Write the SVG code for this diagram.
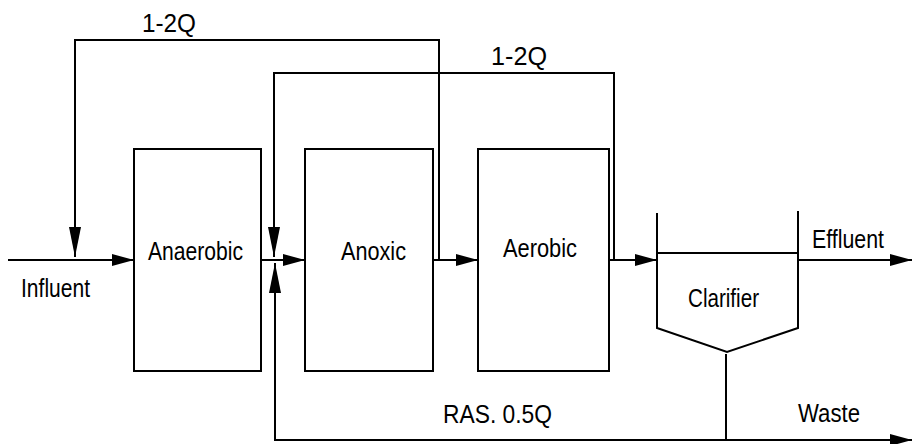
<svg xmlns="http://www.w3.org/2000/svg" width="912" height="444" viewBox="0 0 912 444">
<style>
.box{fill:none;stroke:#000;stroke-width:2}
.ln{fill:none;stroke:#000;stroke-width:2}
.t{font-family:"Liberation Sans",Arial,sans-serif;font-size:26px;fill:#000}
</style>
<defs>
<marker id="ah" viewBox="0 0 22 12" refX="22" refY="6" markerWidth="22" markerHeight="12" markerUnits="userSpaceOnUse" orient="auto"><path d="M0,0 L22,6 L0,12 z" fill="#000"/></marker>
<marker id="av" viewBox="0 0 30 12" refX="30" refY="6" markerWidth="30" markerHeight="12" markerUnits="userSpaceOnUse" orient="auto"><path d="M0,0 L30,6 L0,12 z" fill="#000"/></marker>
</defs>
<rect width="912" height="444" fill="#fff"/>
<g id="connectors">
<path class="ln" d="M8,260 H134" marker-end="url(#ah)"/>
<path class="ln" d="M439,260 V40 H75 V257" marker-end="url(#av)"/>
<path class="ln" d="M614,260 V73 H274 V257" marker-end="url(#av)"/>
<path class="ln" d="M261,260 H305" marker-end="url(#ah)"/>
<path class="ln" d="M433,260 H478" marker-end="url(#ah)"/>
<path class="ln" d="M609,260 H657" marker-end="url(#ah)"/>
<path class="ln" d="M798,260 H912" marker-end="url(#ah)"/>
<path class="ln" d="M726,354 V440 H912" marker-end="url(#ah)"/>
<path class="ln" d="M726,440 H275 V263" marker-end="url(#av)"/>
<text class="t" x="142" y="32" textLength="54" lengthAdjust="spacingAndGlyphs">1-2Q</text>
<text class="t" x="491" y="65" textLength="56" lengthAdjust="spacingAndGlyphs">1-2Q</text>
<text class="t" x="21" y="297" textLength="69" lengthAdjust="spacingAndGlyphs">Influent</text>
<text class="t" x="812" y="248" textLength="72" lengthAdjust="spacingAndGlyphs">Effluent</text>
<text class="t" x="443" y="423" textLength="109" lengthAdjust="spacingAndGlyphs">RAS. 0.5Q</text>
<text class="t" x="798" y="422" textLength="62" lengthAdjust="spacingAndGlyphs">Waste</text>
</g>
<g id="anaerobic">
<rect class="box" x="134" y="149" width="127" height="222"/>
<text class="t" x="148" y="260" textLength="95" lengthAdjust="spacingAndGlyphs">Anaerobic</text>
</g>
<g id="anoxic">
<rect class="box" x="305" y="149" width="128" height="222"/>
<text class="t" x="341" y="260" textLength="65" lengthAdjust="spacingAndGlyphs">Anoxic</text>
</g>
<g id="aerobic">
<rect class="box" x="478" y="149" width="131" height="222"/>
<text class="t" x="503" y="257" textLength="74" lengthAdjust="spacingAndGlyphs">Aerobic</text>
</g>
<g id="clarifier">
<path class="box" d="M657,213 V328 L727,352 L798,328 V211"/>
<path class="box" d="M657,253 H798"/>
<text class="t" x="688" y="307" textLength="71" lengthAdjust="spacingAndGlyphs">Clarifier</text>
</g>
</svg>
